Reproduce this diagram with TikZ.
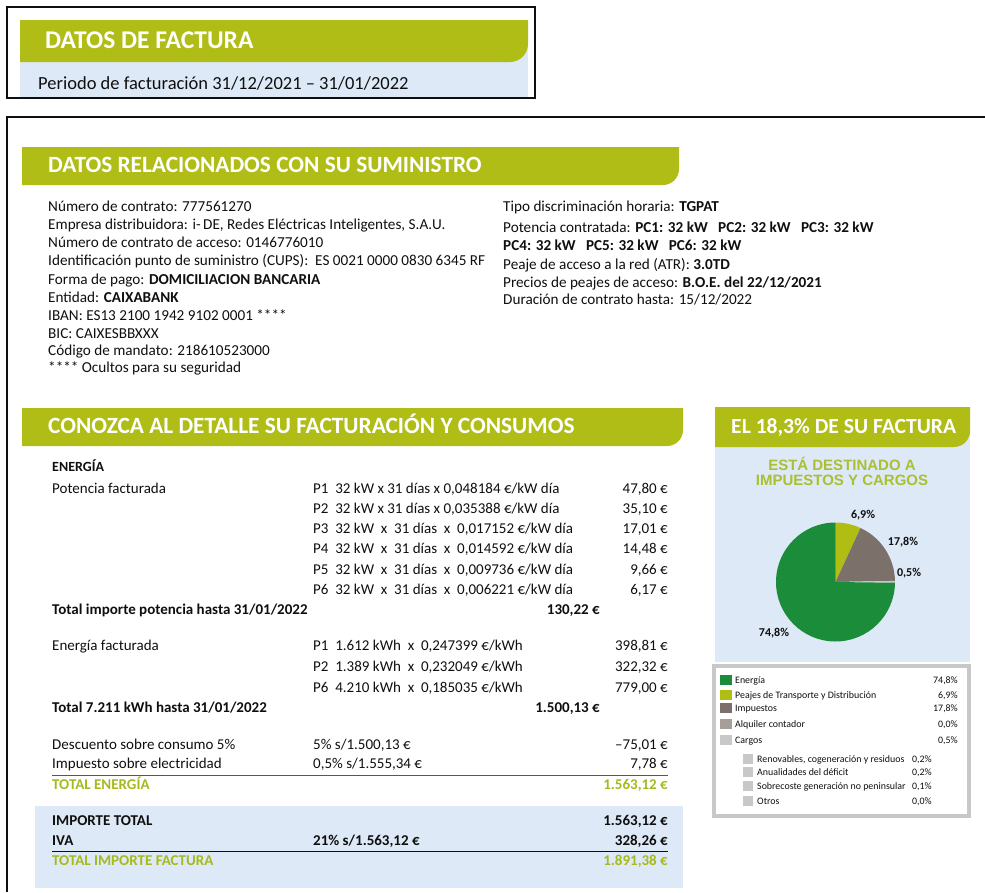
\documentclass[tikz,border=0pt]{standalone}
\usepackage{fontspec}
\setmainfont{Carlito}
\newfontfamily\sansbold{Liberation Sans}
\definecolor{barGreen}{RGB}{175,189,22}
\definecolor{paleBlue}{RGB}{221,233,246}
\definecolor{totGreen}{RGB}{166,186,28}
\definecolor{titleGreen}{RGB}{170,192,50}
\definecolor{pieGreen}{RGB}{27,140,58}
\definecolor{pieOlive}{RGB}{176,190,20}
\definecolor{pieBrown}{RGB}{123,113,106}
\definecolor{pieTaupe}{RGB}{168,158,153}
\definecolor{pieGrey}{RGB}{200,200,200}
\definecolor{ink}{RGB}{15,15,15}
\begin{document}
\begin{tikzpicture}
[x=1pt,y=-1pt,
head/.style={anchor=mid west,inner sep=0pt,yshift=-4.5pt,text=white,font=\bfseries\fontsize{23.3}{23.3}\selectfont},
txt/.style={anchor=mid west,inner sep=0pt,yshift=-3pt,text=ink,font=\fontsize{15.2}{15.2}\selectfont},
row/.style={anchor=mid west,inner sep=0pt,yshift=-2.5pt,text=ink,font=\fontsize{15}{15}\selectfont},
amount/.style={anchor=mid east,inner sep=0pt,yshift=-2.5pt,text=ink,font=\fontsize{15}{15}\selectfont},
strong/.style={font=\bfseries\fontsize{15}{15}\selectfont},
total/.style={text=totGreen,font=\bfseries\fontsize{15}{15}\selectfont},
pct/.style={inner sep=0pt,text=ink,font=\bfseries\fontsize{12}{12}\selectfont},
key/.style={anchor=mid west,inner sep=0pt,yshift=-1pt,text=ink,font=\fontsize{9.9}{9.9}\selectfont},
keyval/.style={anchor=mid east,inner sep=0pt,yshift=-1pt,text=ink,font=\fontsize{9.9}{9.9}\selectfont}]
\useasboundingbox (0,0) rectangle (985,892);

\fill[paleBlue] (20,40) rectangle (528,98);
\fill[barGreen] (20,20) -- (528,20) [rounded corners=18pt] -- (528,62) [sharp corners] -- (20,62) -- cycle;
\draw[line width=1.5pt,ink] (7,7) rectangle (535,98);
\node[head,font=\bfseries\fontsize{25.5}{25.5}\selectfont] (factura) at (45,42) {DATOS DE FACTURA};
\node[txt,font=\fontsize{18.5}{18.5}\selectfont] (periodo) at (38,84) {Periodo de facturación 31/12/2021 – 31/01/2022};

\draw[line width=1.5pt,ink] (7,892) -- (7,117) -- (985,117);

\fill[barGreen] (22,147) -- (679,147) [rounded corners=16pt] -- (679,185) [sharp corners] -- (22,185) -- cycle;
\node[head] (suministro) at (48,166) {DATOS RELACIONADOS CON SU SUMINISTRO};
\foreach \n/\y/\t in {1/206/{Número de contrato: 777561270},
2/224/{Empresa distribuidora: i-\,DE, Redes Eléctricas Inteligentes, S.A.U.},
3/242/{Número de contrato de acceso: 0146776010},
4/260/{Identificación punto de suministro (CUPS): \ ES 0021 0000 0830 6345 RF},
5/279/{Forma de pago: \textbf{DOMICILIACION BANCARIA}},
6/297/{Entidad: \textbf{CAIXABANK}},
7/315/{IBAN: ES13 2100 1942 9102 0001 ****},
8/333/{BIC: CAIXESBBXXX},
9/350/{Código de mandato: 218610523000},
10/367/{**** Ocultos para su seguridad}}
{
	\node[txt] (izq\n) at (48,\y) {\t};
}
\foreach \n/\y/\t in {1/206/{Tipo discriminación horaria: \textbf{TGPAT}},
2/227/{Potencia contratada: \textbf{PC1: 32 kW \ \ PC2: 32 kW \ \ PC3: 32 kW}},
3/245/{\textbf{PC4: 32 kW \ \ PC5: 32 kW \ \ PC6: 32 kW}},
4/264/{Peaje de acceso a la red (ATR): \textbf{3.0TD}},
5/282/{Precios de peajes de acceso: \textbf{B.O.E. del 22/12/2021}},
6/299/{Duración de contrato hasta: 15/12/2022}}
{
	\node[txt] (der\n) at (503,\y) {\t};
}

\fill[barGreen] (22,408) -- (683,408) [rounded corners=16pt] -- (683,446) [sharp corners] -- (22,446) -- cycle;
\node[head] (detalle) at (48,427) {CONOZCA AL DETALLE SU FACTURACIÓN Y CONSUMOS};
\node[row,strong,font=\bfseries\fontsize{14}{14}\selectfont] (energia) at (52,467) {ENERGÍA};
\node[row] (potencia) at (52,489) {Potencia facturada};
\foreach \n/\y/\t/\v in {1/489/{P1 \ 32 kW x 31 días x 0,048184 €/kW día}/{47,80 €},
2/509/{P2 \ 32 kW x 31 días x 0,035388 €/kW día}/{35,10 €},
3/529/{P3 \ 32 kW \ x \ 31 días \ x \ 0,017152 €/kW día}/{17,01 €},
4/549/{P4 \ 32 kW \ x \ 31 días \ x \ 0,014592 €/kW día}/{14,48 €},
5/570/{P5 \ 32 kW \ x \ 31 días \ x \ 0,009736 €/kW día}/{9,66 €},
6/590/{P6 \ 32 kW \ x \ 31 días \ x \ 0,006221 €/kW día}/{6,17 €}}
{
	\node[row] (pot\n) at (313,\y) {\t};
	\node[amount] (potv\n) at (668,\y) {\v};
}
\node[row,strong] (totpot) at (52,610) {Total importe potencia hasta 31/01/2022};
\node[amount,strong] (totpotv) at (600,610) {130,22 €};
\node[row] (facturada) at (52,646) {Energía facturada};
\foreach \n/\y/\t/\v in {1/646/{P1 \ 1.612 kWh \ x \ 0,247399 €/kWh}/{398,81 €},
2/667/{P2 \ 1.389 kWh \ x \ 0,232049 €/kWh}/{322,32 €},
3/688/{P6 \ 4.210 kWh \ x \ 0,185035 €/kWh}/{779,00 €}}
{
	\node[row] (ene\n) at (313,\y) {\t};
	\node[amount] (enev\n) at (668,\y) {\v};
}
\node[row,strong] (totene) at (52,708) {Total 7.211 kWh hasta 31/01/2022};
\node[amount,strong] (totenev) at (600,708) {1.500,13 €};
\node[row] (dto) at (52,745) {Descuento sobre consumo 5\%};
\node[row] (dtob) at (313,745) {5\% s/1.500,13 €};
\node[amount] (dtov) at (668,745) {–75,01 €};
\node[row] (iee) at (52,764) {Impuesto sobre electricidad};
\node[row] (ieeb) at (313,764) {0,5\% s/1.555,34 €};
\node[amount] (ieev) at (668,764) {7,78 €};
\draw[line width=1pt,ink!70] (52,775) -- (668,775);
\node[row,total] (totenergia) at (52,785) {TOTAL ENERGÍA};
\node[amount,total] (totenergiav) at (668,785) {1.563,12 €};

\fill[paleBlue] (35,806) rectangle (683,888);
\node[row,strong] (importe) at (52,821) {IMPORTE TOTAL};
\node[amount,strong] (importev) at (668,821) {1.563,12 €};
\node[row,strong] (iva) at (52,841) {IVA};
\node[row,strong] (ivab) at (313,841) {21\% s/1.563,12 €};
\node[amount,strong] (ivav) at (668,841) {328,26 €};
\draw[line width=1pt,ink] (52,851) -- (668,851);
\node[row,total] (totfactura) at (52,861) {TOTAL IMPORTE FACTURA};
\node[amount,total] (totfacturav) at (668,861) {1.891,38 €};

\fill[paleBlue] (715,425) rectangle (970,662);
\fill[barGreen] (715,407) -- (970,407) [rounded corners=16pt] -- (970,447) [sharp corners] -- (715,447) -- cycle;
\node[head,font=\bfseries\fontsize{21.6}{21.6}\selectfont] (dieciocho) at (731,427) {EL 18,3\% DE SU FACTURA};
\node[text=titleGreen,font=\sansbold\bfseries\fontsize{15}{15}\selectfont,align=center,inner sep=0pt] (destinado) at (842,471.5) {ESTÁ DESTINADO A\\IMPUESTOS Y CARGOS};
\coordinate (c) at (835.5,582);
\foreach \a/\b/\c in {-90/-65.16/pieOlive,-65.16/-1.08/pieBrown,-1.08/0.72/pieGrey,0.72/270/pieGreen}
{
	\fill[\c] (c) -- ++(\a:59.5) arc[start angle=\a,end angle=\b,radius=59.5] -- cycle;
}
\node[pct] (p69) at (863,515) {6,9\%};
\node[pct] (p178) at (903,542) {17,8\%};
\node[pct] (p05) at (909,573) {0,5\%};
\node[pct] (p748) at (774,633) {74,8\%};

\draw[line width=4pt,pieGrey,fill=white] (714,666) rectangle (969,816);
\foreach \n/\y/\c/\t/\v in {1/680/pieGreen/Energía/{74,8\%},
2/695/pieOlive/{Peajes de Transporte y Distribución}/{6,9\%},
3/708/pieBrown/Impuestos/{17,8\%},
4/724/pieTaupe/{Alquiler contador}/{0,0\%},
5/740/pieGrey/Cargos/{0,5\%}}
{
	\fill[\c] (720,\y-5) rectangle (732,\y+5);
	\node[key] (ley\n) at (735,\y) {\t};
	\node[keyval] (leyv\n) at (958,\y) {\v};
}
\foreach \n/\y/\t/\v in {1/759/{Renovables, cogeneración y residuos}/{0,2\%},
2/772/{Anualidades del déficit}/{0,2\%},
3/786/{Sobrecoste generación no peninsular}/{0,1\%},
4/801/Otros/{0,0\%}}
{
	\fill[pieGrey] (743,\y-5) rectangle (753,\y+5);
	\node[key] (sub\n) at (757,\y) {\t};
	\node[keyval] (subv\n) at (932,\y) {\v};
}
\end{tikzpicture}
\end{document}
